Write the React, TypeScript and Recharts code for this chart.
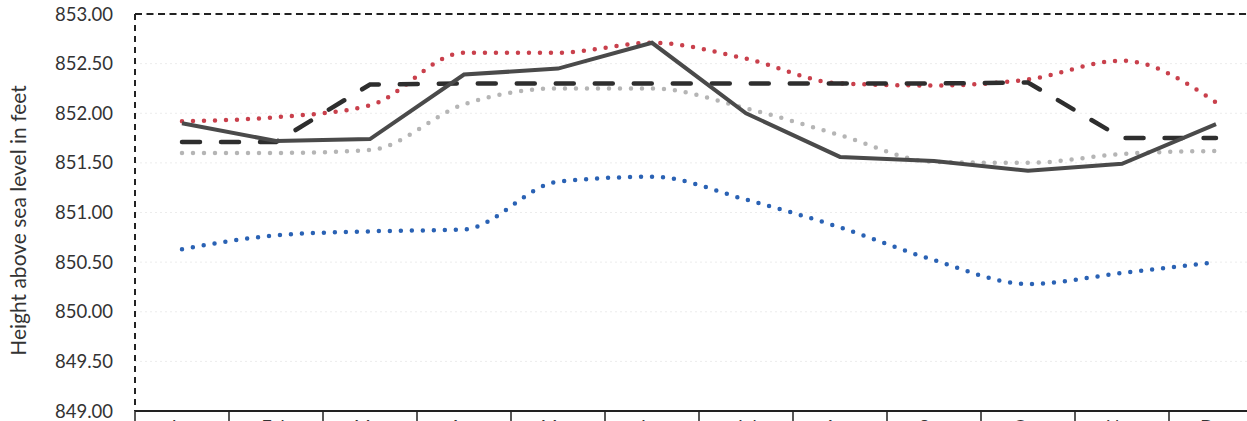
import { CartesianGrid, Line, LineChart, ReferenceLine, XAxis, YAxis } from "recharts";

const months = ["Jan", "Feb", "Mar", "Apr", "May", "Jun", "Jul", "Aug", "Sep", "Oct", "Nov", "Dec"];
const redDotted = [851.92, 851.96, 852.08, 852.61, 852.61, 852.71, 852.55, 852.3, 852.28, 852.34, 852.53, 852.11];
const grayDotted = [851.6, 851.6, 851.63, 852.09, 852.25, 852.25, 852.05, 851.78, 851.51, 851.5, 851.59, 851.62];
const blueDotted = [850.63, 850.77, 850.81, 850.83, 851.31, 851.36, 851.13, 850.85, 850.52, 850.28, 850.39, 850.5];
const darkSolid = [851.9, 851.72, 851.74, 852.39, 852.45, 852.71, 852.0, 851.56, 851.52, 851.42, 851.49, 851.89];
const blackDashed = [851.71, 851.71, 852.29, 852.3, 852.3, 852.3, 852.3, 852.3, 852.3, 852.31, 851.75, 851.75];
const yTicks = [849, 849.5, 850, 850.5, 851, 851.5, 852, 852.5, 853];
const xTicks = [0, 1, 2, 3, 4, 5, 6, 7, 8, 9, 10, 11, 12];

const data = months.map((m, i) => ({
  month: m,
  pos: i + 0.5,
  red: redDotted[i],
  gray: grayDotted[i],
  blue: blueDotted[i],
  solid: darkSolid[i],
  dashed: blackDashed[i],
}));

const W = 1280;
const H = 445;
const M = { top: 14, right: 17, bottom: 4, left: 0 };
const Y_W = 135;
const HALF_CAT = (W - M.left - M.right - Y_W) / 12 / 2;
const FONT = "Lato, 'Open Sans', sans-serif";
const TXT = "#333";

function MonthTick({ x, y, payload }: any) {
  const i = payload.value;
  if (i >= months.length) return null;
  return (
    <text x={x + HALF_CAT} y={y} dy={0} textAnchor="middle" fontSize={18} fontFamily={FONT} fill={TXT}>
      {months[i]}
    </text>
  );
}

// round dots along the path
const dotted = { strokeWidth: 4.5, strokeDasharray: "0 11", strokeLinecap: "round" as const };

export default function App() {
  return (
    <div style={{ position: "fixed", left: 0, top: 0, width: 1247, height: 421, overflow: "hidden", background: "#fff" }}>
      <LineChart width={W} height={H} data={data} margin={M}>
        <CartesianGrid vertical={false} stroke="#ececec" strokeDasharray="2 3" />
        <XAxis
          dataKey="pos"
          type="number"
          domain={[0, 12]}
          ticks={xTicks}
          interval={0}
          height={30}
          tickSize={22}
          tickMargin={0}
          axisLine={{ stroke: "#222", strokeWidth: 2 }}
          tickLine={{ stroke: "#222", strokeWidth: 1.5 }}
          tick={<MonthTick />}
        />
        <YAxis
          domain={[849, 853]}
          ticks={yTicks}
          interval={0}
          width={Y_W}
          tickSize={0}
          tickMargin={22}
          tickFormatter={(v: number) => v.toFixed(2)}
          tick={{ fontSize: 18.5, fontFamily: FONT, fill: TXT }}
          axisLine={{ stroke: "#222", strokeWidth: 2, strokeDasharray: "6 5" }}
          tickLine={false}
          label={{
            content: ({ viewBox }: any) => {
              const cy = viewBox.y + viewBox.height / 2 + 8;
              return (
                <text x={17} y={cy} transform={`rotate(-90 17 ${cy})`} textAnchor="middle" dominantBaseline="central" fontSize={21} fontFamily={FONT} fill={TXT}>
                  Height above sea level in feet
                </text>
              );
            },
          }}
        />
        <ReferenceLine y={853} stroke="#222" strokeWidth={2} strokeDasharray="7 4.5" />
        <Line dataKey="blue" type="monotone" stroke="#2a62b4" {...dotted} dot={false} isAnimationActive={false} />
        <Line dataKey="gray" type="monotone" stroke="#b5b5b5" {...dotted} dot={false} isAnimationActive={false} />
        <Line dataKey="red" type="monotone" stroke="#c9404c" {...dotted} dot={false} isAnimationActive={false} />
        <Line
          dataKey="dashed"
          type="linear"
          stroke="#2e2e2e"
          strokeWidth={4.5}
          strokeDasharray="18 21"
          strokeLinecap="round"
          dot={false}
          isAnimationActive={false}
        />
        <Line dataKey="solid" type="linear" stroke="#4a4a4a" strokeWidth={4} dot={false} isAnimationActive={false} />
      </LineChart>
    </div>
  );
}
